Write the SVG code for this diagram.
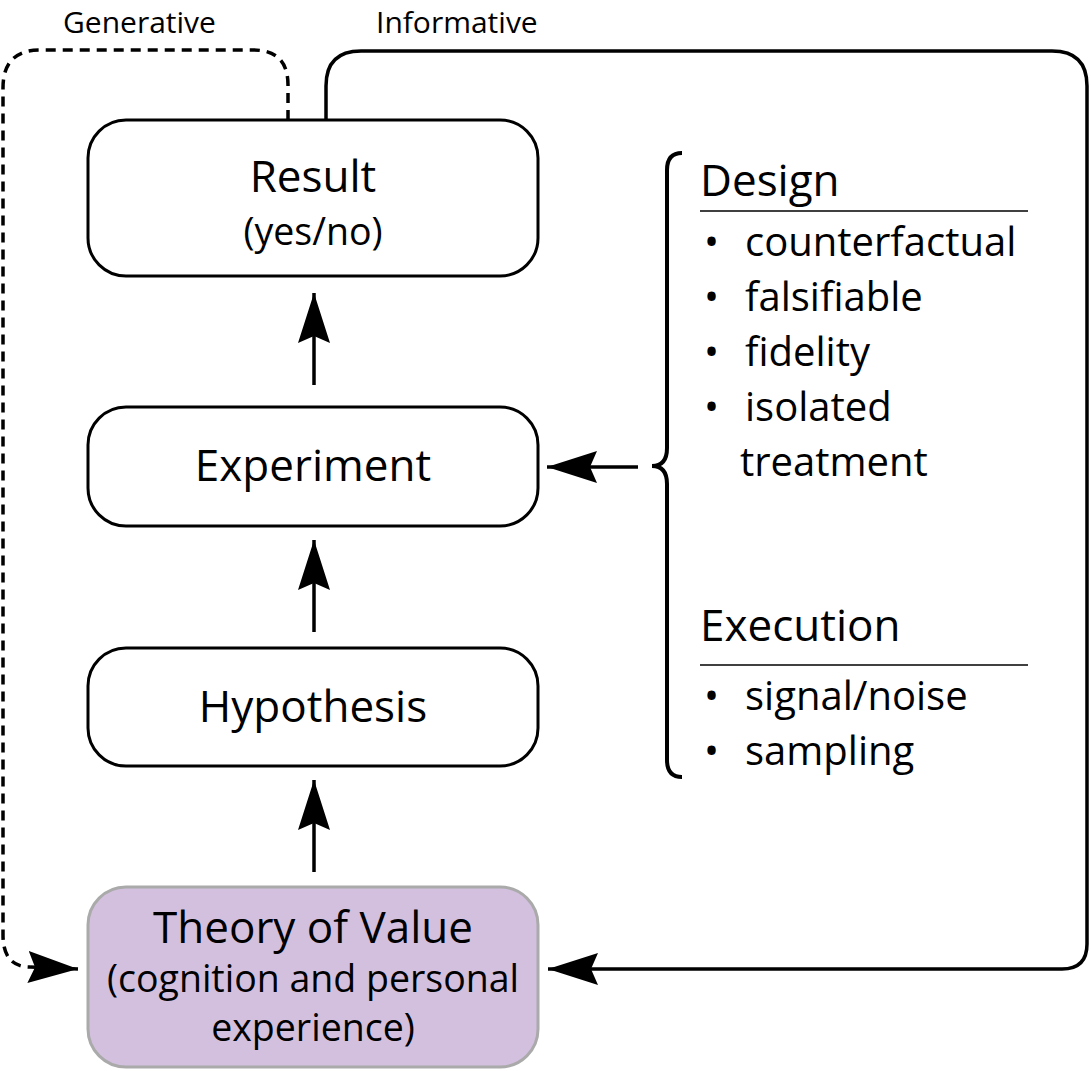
<svg xmlns="http://www.w3.org/2000/svg" width="1091" height="1071" viewBox="0 0 1091 1071">
<style>
text{font-family:"Open Sans","Noto Sans",sans-serif;fill:#000}
.box{fill:#fff;stroke:#000;stroke-width:3}
.t{font-size:44px;text-anchor:middle}
.s{font-size:37.5px;text-anchor:middle}
.l{font-size:40px}
.h{font-size:44px}
.c{fill:none;stroke:#000;stroke-width:3.5}
.lbl{font-size:30px}
</style>
<defs>
<marker id="ah" markerUnits="userSpaceOnUse" viewBox="0 0 50 32" refX="50" refY="16" markerWidth="50" markerHeight="32" orient="auto">
<path d="M50,16 L0,0 L7,16 L0,32 Z" fill="#000"/>
</marker>
</defs>
<g id="labels">
<text class="lbl" x="63" y="33">Generative</text>
<text class="lbl" x="376" y="33">Informative</text>
</g>
<g id="connectors">
<path class="c" d="M288,120 V85 Q288,50 253,50 H40 Q3,50 3,88 V935 Q3,967 30,967" stroke-dasharray="10,7"/>
<path class="c" d="M30,967 L78,969" marker-end="url(#ah)" stroke="none"/>
<path class="c" d="M326,120 V86 Q326,51 361,51 H1052 Q1087,51 1087,86 V944 Q1087,969 1062,969 H548" marker-end="url(#ah)"/>
<path class="c" d="M314,385 V293" marker-end="url(#ah)"/>
<path class="c" d="M314,632 V540" marker-end="url(#ah)"/>
<path class="c" d="M314,872 V780" marker-end="url(#ah)"/>
<path class="c" d="M638,467 H547" marker-end="url(#ah)"/>
</g>
<g id="result">
<rect class="box" x="88" y="120" width="450" height="156" rx="38"/>
<text class="t" x="313" y="192">Result</text>
<text class="s" x="313" y="245">(yes/no)</text>
</g>
<g id="experiment">
<rect class="box" x="88" y="407" width="450" height="119" rx="38"/>
<text class="t" x="313" y="481">Experiment</text>
</g>
<g id="hypothesis">
<rect class="box" x="88" y="648" width="450" height="118" rx="38"/>
<text class="t" x="313" y="722">Hypothesis</text>
</g>
<g id="theory">
<rect x="88" y="887" width="450" height="180" rx="38" fill="#d3c0df" stroke="#aaaaaa" stroke-width="3"/>
<text class="t" x="313" y="943">Theory of Value</text>
<text class="s" x="313" y="992">(cognition and personal</text>
<text class="s" x="313" y="1041">experience)</text>
</g>
<g id="criteria">
<path d="M682,153 Q667,153 667,170 V448 Q667,466 652,466 Q667,466 667,484 V760 Q667,777 682,777" fill="none" stroke="#000" stroke-width="4"/>
<text class="h" x="700" y="196">Design</text>
<line x1="700" y1="211" x2="1028" y2="211" stroke="#000" stroke-width="1.5"/>
<text class="l" x="704" y="256">•</text><text class="l" x="745" y="256">counterfactual</text>
<text class="l" x="704" y="311">•</text><text class="l" x="745" y="311">falsifiable</text>
<text class="l" x="704" y="366">•</text><text class="l" x="745" y="366">fidelity</text>
<text class="l" x="704" y="421">•</text><text class="l" x="745" y="421">isolated</text>
<text class="l" x="740" y="476">treatment</text>
<text class="h" x="700" y="641">Execution</text>
<line x1="700" y1="665" x2="1028" y2="665" stroke="#000" stroke-width="1.5"/>
<text class="l" x="704" y="710">•</text><text class="l" x="745" y="710">signal/noise</text>
<text class="l" x="704" y="765">•</text><text class="l" x="745" y="765">sampling</text>
</g>
</svg>
